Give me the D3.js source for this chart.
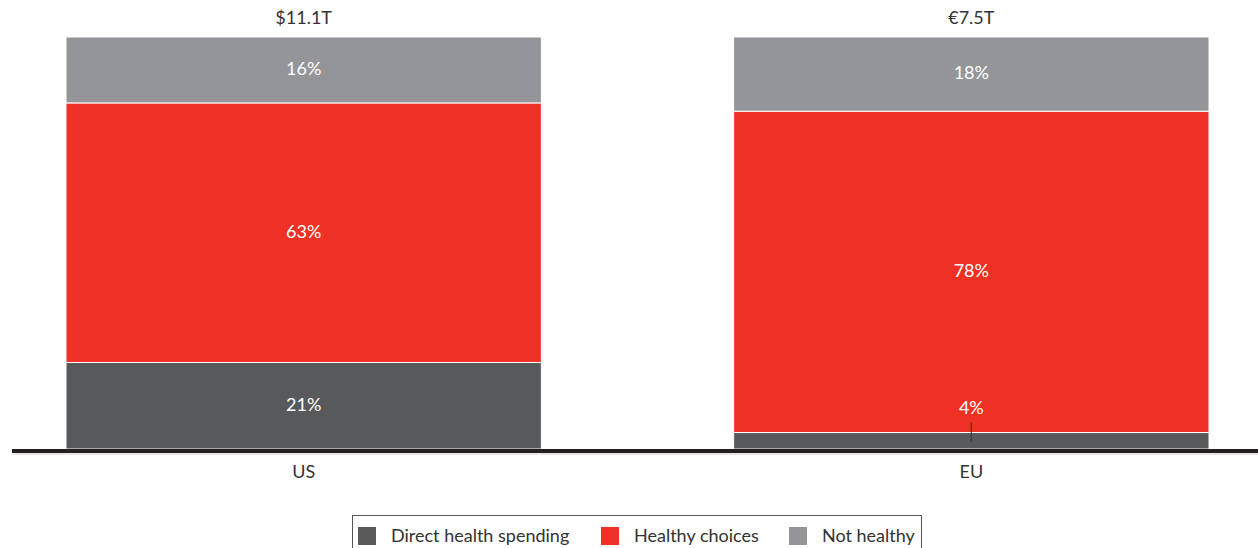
<!DOCTYPE html>
<html>
<head>
<meta charset="utf-8">
<script src="https://cdn.jsdelivr.net/npm/d3@7"></script>
<style>
  body { margin: 0; background: #fff; }
  svg { display: block; font-family: Lato, "Noto Sans", sans-serif; font-weight: 400; }
</style>
</head>
<body>
<svg width="1258" height="548"></svg>
<script>
// data
var regions = ['US', 'EU'];
var totals = ['$11.1T', '€7.5T'];
var seriesNames = ['Direct health spending', 'Healthy choices', 'Not healthy'];
var directHealth = [21, 4];
var healthyChoices = [63, 78];
var notHealthy = [16, 18];

var colors = ['#58595b', '#ee3124', '#939598'];

var rows = regions.map(function(r, i) {
  return { region: r, total: totals[i], direct: directHealth[i], healthy: healthyChoices[i], not: notHealthy[i] };
});

var svg = d3.select('svg');

var x = d3.scaleBand()
  .domain(regions)
  .range([66, 1209])
  .paddingInner(0.288)
  .paddingOuter(0);

var y = d3.scaleLinear()
  .domain([0, 100])
  .range([449, 37]);

var color = d3.scaleOrdinal().domain(['direct', 'healthy', 'not']).range(colors);

var stack = d3.stack().keys(['direct', 'healthy', 'not']);
var layers = stack(rows);

// bars
var g = svg.append('g').attr('class', 'bars');
g.selectAll('g.layer')
  .data(layers)
  .enter()
  .append('g')
  .attr('class', 'layer')
  .attr('fill', function(d) { return color(d.key); })
  .selectAll('rect')
  .data(function(d) { return d; })
  .enter()
  .append('rect')
  .attr('x', function(d) { return x(d.data.region); })
  .attr('width', x.bandwidth())
  .attr('y', function(d) { return y(d[1]); })
  .attr('height', function(d) { return y(d[0]) - y(d[1]); })
  .attr('stroke', '#fff')
  .attr('stroke-width', 1);

// value labels
layers.forEach(function(layer) {
  layer.forEach(function(d) {
    var v = d[1] - d[0];
    var cx = x(d.data.region) + x.bandwidth() / 2;
    var top = y(d[1]), bot = y(d[0]);
    var small = (bot - top) < 30;
    var ty = small ? top - 25 : (top + bot) / 2 - 1;
    svg.append('text')
      .attr('x', cx)
      .attr('y', ty)
      .attr('dy', '0.35em')
      .attr('text-anchor', 'middle')
      .attr('fill', '#fff')
      .attr('font-size', 18)
      .text(v + '%');
    if (small) {
      svg.append('line')
        .attr('x1', cx).attr('x2', cx)
        .attr('y1', top - 10).attr('y2', (top + bot) / 2 + 1)
        .attr('stroke', '#333')
        .attr('stroke-width', 1);
    }
  });
});

// totals above bars
svg.selectAll('text.total')
  .data(rows)
  .enter()
  .append('text')
  .attr('class', 'total')
  .attr('x', function(d) { return x(d.region) + x.bandwidth() / 2; })
  .attr('y', 18)
  .attr('dy', '0.35em')
  .attr('text-anchor', 'middle')
  .attr('fill', '#333')
  .attr('font-size', 18)
  .text(function(d) { return d.total; });

// baseline + axis labels
svg.append('rect')
  .attr('x', 12).attr('y', y(0))
  .attr('width', 1246).attr('height', 4)
  .attr('fill', '#231f20');
svg.append('line')
  .attr('x1', 12).attr('x2', 1258)
  .attr('y1', y(0) + 5).attr('y2', y(0) + 5)
  .attr('stroke', '#ccc').attr('stroke-width', 1);

var xAxis = svg.append('g')
  .attr('transform', 'translate(0,' + (y(0) + 4) + ')')
  .call(d3.axisBottom(x).tickSize(0).tickPadding(12));
xAxis.select('.domain').remove();
xAxis.selectAll('text')
  .attr('font-size', 18)
  .attr('font-family', 'Lato, "Noto Sans", sans-serif')
  .attr('fill', '#333');

// legend
var legend = svg.append('g').attr('class', 'legend');
legend.append('rect')
  .attr('x', 352.5).attr('y', 515.5)
  .attr('width', 569).attr('height', 40)
  .attr('fill', 'none')
  .attr('stroke', '#555')
  .attr('stroke-width', 1);

var legendX = [358, 601, 789];
seriesNames.forEach(function(name, i) {
  legend.append('rect')
    .attr('x', legendX[i]).attr('y', 527)
    .attr('width', 18).attr('height', 18)
    .attr('fill', colors[i]);
  legend.append('text')
    .attr('x', legendX[i] + 33)
    .attr('y', 536)
    .attr('dy', '0.35em')
    .attr('fill', '#333')
    .attr('font-size', 18)
    .text(name);
});
</script>
</body>
</html>
